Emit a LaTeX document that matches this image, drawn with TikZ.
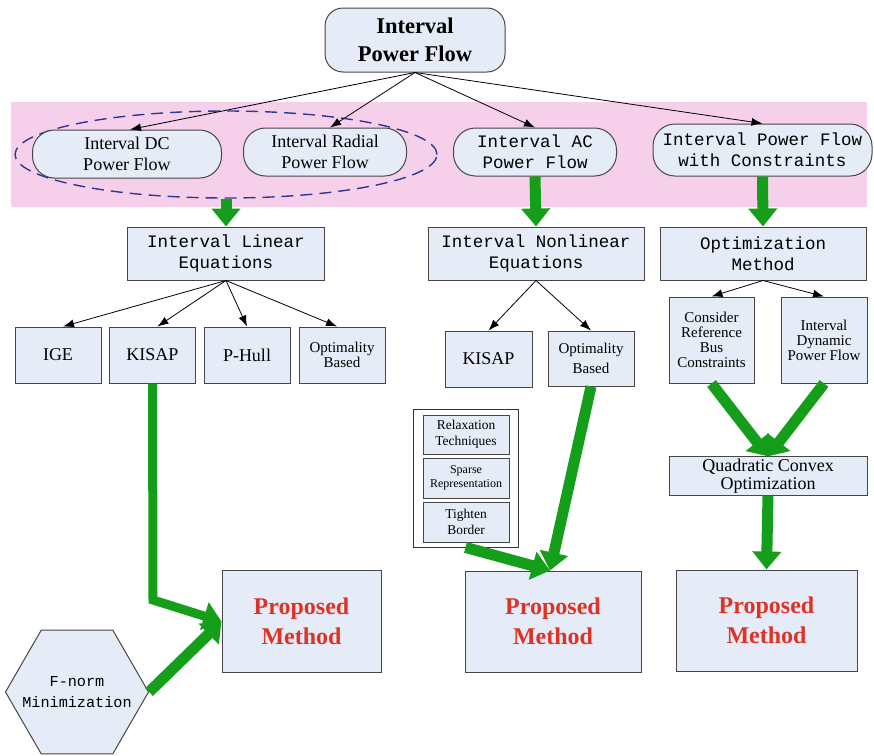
\documentclass[tikz,border=0pt]{standalone}
\usepackage{fontspec}
\setmainfont{Liberation Serif}
\setmonofont{Liberation Mono}
\usetikzlibrary{shapes.geometric, arrows.meta, positioning}
\definecolor{boxfill}{RGB}{229, 236, 247}
\definecolor{boxline}{RGB}{70, 70, 70}
\definecolor{bandpink}{RGB}{246, 208, 234}
\definecolor{flowgreen}{RGB}{20, 158, 25}
\definecolor{dashblue}{RGB}{45, 55, 150}
\definecolor{propred}{RGB}{222, 50, 38}

\begin{document}
\begin{tikzpicture}[x=1pt, y=-1pt]
    \tikzstyle{box} = [rectangle, draw=boxline, fill=boxfill, line width=1pt,
                       align=center, inner sep=2pt]
    \tikzstyle{rbox} = [box, rounded corners=22pt]
    \tikzstyle{mono} = [font=\ttfamily\fontsize{17.5}{21}\selectfont]
    \tikzstyle{serif} = [font=\fontsize{18}{21}\selectfont]
    \tikzstyle{small} = [font=\fontsize{15}{15}\selectfont]
    \tikzstyle{prop} = [box, text=propred, font=\bfseries\fontsize{24}{30}\selectfont]
    \tikzstyle{arr} = [-{Latex[length=11pt, width=8pt]}, line width=0.8pt]
    \tikzstyle{garr} = [-{Triangle[length=18pt, width=28pt]}, line width=11pt, draw=flowgreen]

    \useasboundingbox (0,0) rectangle (874,755);
    \fill[bandpink] (11,102) rectangle (867,207);

    % top level
    \node[box, rounded corners=18pt, minimum width=180pt, minimum height=64pt,
          font=\bfseries\fontsize{22.5}{28}\selectfont] (ipf) at (415,40) {Interval\\Power Flow};

    \node[ellipse, draw=dashblue, line width=1.4pt, dash pattern=on 12pt off 7pt,
          minimum width=422pt, minimum height=87pt] (dcgrp) at (226,154.5) {};
    \node[rbox, serif, minimum width=189pt, minimum height=48pt] (dc)     at (127,154) {Interval DC\\Power Flow};
    \node[rbox, serif, minimum width=163pt, minimum height=48pt] (radial) at (325,152) {Interval Radial\\Power Flow};
    \node[rbox, mono,  minimum width=163pt, minimum height=48pt] (ac)     at (535,152) {Interval AC\\Power Flow};
    \node[rbox, mono,  minimum width=219pt, minimum height=52pt] (cons)   at (762.5,150) {Interval Power Flow\\with Constraints};

    \draw[arr] (ipf.south) -- ([xshift=3pt]dc.north);
    \draw[arr] (ipf.south) -- ([xshift=5pt]radial.north);
    \draw[arr] (ipf.south) -- (ac.north);
    \draw[arr] (ipf.south) -- (cons.north);

    % equations
    \node[box, mono, minimum width=197pt, minimum height=53pt] (lin)    at (226,253.5) {Interval Linear\\Equations};
    \node[box, mono, minimum width=216pt, minimum height=53pt] (nonlin) at (536,253.5) {Interval Nonlinear\\Equations};
    \node[box, mono, minimum width=206pt, minimum height=53pt] (optm)   at (763,253.5) {Optimization\\Method};

    \draw[garr] (dcgrp.south) -- (lin.north);
    \draw[garr] (ac.south) -- (nonlin.north);
    \draw[garr] (cons.south) -- (optm.north);

    % linear solvers
    \node[box, serif, minimum width=86pt, minimum height=56pt] (ige)    at (58,355)  {IGE};
    \node[box, serif, minimum width=86pt, minimum height=56pt] (kisap)  at (152.5,355) {KISAP};
    \node[box, serif, minimum width=86pt, minimum height=56pt] (phull)  at (247,355) {P-Hull};
    \node[box, small, minimum width=86pt, minimum height=56pt] (optlin) at (342,355) {Optimality\\Based};

    \draw[arr] (lin.south) -- ([xshift=5pt]ige.north);
    \draw[arr] (lin.south) -- ([xshift=5pt]kisap.north);
    \draw[arr] (lin.south) -- (phull.north);
    \draw[arr] (lin.south) -- ([xshift=-5pt]optlin.north);

    % nonlinear solvers
    \node[box, serif, minimum width=87pt, minimum height=56pt] (kisapnl) at (488.5,359) {KISAP};
    \node[box, font=\fontsize{15}{20}\selectfont, minimum width=86pt, minimum height=55pt] (optnl) at (591,358.5) {Optimality\\Based};

    \draw[arr] (nonlin.south) -- (kisapnl.north);
    \draw[arr] (nonlin.south) -- (optnl.north);

    \node[box, draw=black!80, fill=white, line width=0.8pt, minimum width=105pt, minimum height=138pt] (relaxgrp) at (465.5,478) {};
    \node[box, font=\fontsize{13.5}{16}\selectfont, minimum width=86pt, minimum height=39pt] (relax) at (466,434.5) {Relaxation\\Techniques};
    \node[box, font=\fontsize{12}{14}\selectfont, minimum width=86pt, minimum height=40pt, below=3pt of relax] (sparse) {Sparse\\Representation};
    \node[box, font=\fontsize{13.5}{16}\selectfont, minimum width=86pt, minimum height=40pt, below=3pt of sparse] (tighten) {Tighten\\Border};

    % optimization branch
    \node[box, small, minimum width=85pt, minimum height=86pt] (refbus) at (711.5,340) {Consider\\Reference\\Bus\\Constraints};
    \node[box, small, minimum width=86pt, minimum height=86pt] (dyn)    at (824,340)   {Interval\\Dynamic\\Power Flow};
    \node[box, font=\fontsize{18}{18}\selectfont, minimum width=198pt, minimum height=38pt] (quad) at (768,476) {Quadratic Convex\\Optimization};

    \draw[arr] (optm.south) -- (refbus.north);
    \draw[arr] (optm.south) -- (dyn.north);
    \draw[garr] (refbus.south) -- (quad.north);
    \draw[garr] (dyn.south) -- (quad.north);

    % results
    \node[prop, minimum width=159pt, minimum height=102pt] (prop1) at (301.5,621.5) {Proposed\\Method};
    \node[prop, minimum width=176pt, minimum height=101pt] (prop2) at (553,621.5)   {Proposed\\Method};
    \node[prop, minimum width=181pt, minimum height=101pt] (prop3) at (766.5,620.5) {Proposed\\Method};

    \node[regular polygon, regular polygon sides=6, draw=boxline, fill=boxfill, line width=1pt,
          minimum size=143pt, inner sep=0pt,
          font=\ttfamily\fontsize{15.2}{21}\selectfont] (fnorm) at (77,692)
          {\makebox[0pt]{\smash{\raisebox{-4pt}{\begin{tabular}{@{}c@{}}F-norm\\Minimization\end{tabular}}}}};

    \coordinate (kbend) at (153,600);
    \draw[garr, line width=9pt] (kisap.south) -- (kbend) -- (prop1.west);
    \draw[garr] (fnorm.east) -- (prop1.west);
    \draw[garr] (optnl.south) -- ([xshift=-3pt]prop2.north);
    \draw[garr] (relaxgrp.south) -- ([xshift=-3pt]prop2.north);
    \draw[garr] (quad.south) -- (prop3.north);
\end{tikzpicture}
\end{document}
